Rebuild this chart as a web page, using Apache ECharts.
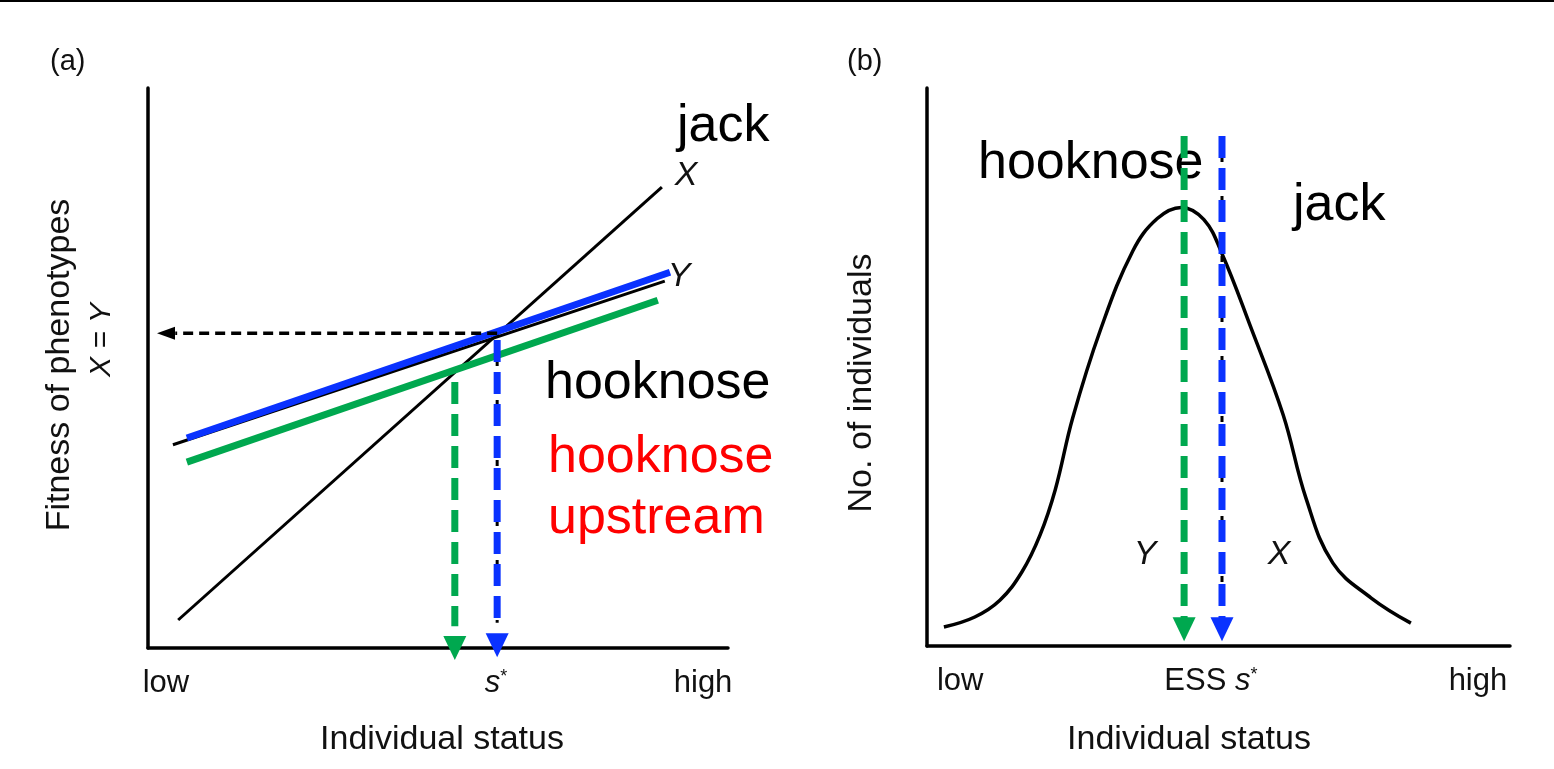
<!DOCTYPE html>
<html>
<head>
<meta charset="utf-8">
<script src="https://cdn.jsdelivr.net/npm/echarts@6/dist/echarts.min.js"></script>
<style>
  html, body { margin: 0; padding: 0; background: #fff; }
  #chart { width: 1554px; height: 769px; }
</style>
</head>
<body>
<div id="chart"></div>
<script>
// panel (a): fitness against individual status (0 = low .. 100 = high)
var jackX = [[5.2, 5.0], [88.6, 82.3]];
var hookY = [[4.3, 36.3], [89.1, 65.5]];
var hookBlue = [[6.7, 37.5], [90.0, 67.1]];
var hookGreen = [[6.7, 33.2], [87.9, 62.1]];
var equalFitness = [[60.2, 56.2], [4.7, 56.2]];
var equalArrow = [[3.1, 56.2]];
var blueDrop = [[60.2, 55.0], [60.2, 4.5]];
var blueDropTip = [[60.2, 0.5]];
var greenDrop = [[52.9, 47.5], [52.9, 3.9]];
var greenDropTip = [[52.9, 0]];
var ticksA = [3.1, 60.0, 95.7];
var tickLabelsA = ['low', 's*', 'high'];

// panel (b): number of individuals along status
var bellCurve = [
  [2.9, 3.4], [8.2, 5.2], [12.5, 8.2], [16.3, 13.3], [19.4, 19.9], [22.0, 28.0],
  [25.0, 40.9], [29.7, 56.5], [35.3, 70.8], [39.5, 76.6], [43.6, 78.6], [47.5, 76.4],
  [50.6, 70.3], [55.4, 57.5], [61.1, 41.4], [65.0, 26.5], [69.6, 14.9], [76.2, 8.6], [83.0, 4.1]
];
var greenEss = [[44.1, 91.4], [44.1, 5.0]];
var greenEssTip = [[44.1, 3.0]];
var blueEss = [[50.6, 91.4], [50.6, 5.0]];
var blueEssTip = [[50.6, 3.0]];
var ticksB = [5.7, 48.7, 94.5];
var tickLabelsB = ['low', 'ESS s*', 'high'];

var BLUE = '#0a32ff', GREEN = '#00a84f', FONT = '"Liberation Sans", Arial, sans-serif';
var INK = '#111';

function tickFormatter(ticks, labels) {
  return function (v) {
    var best = 0;
    for (var i = 1; i < ticks.length; i++) {
      if (Math.abs(ticks[i] - v) < Math.abs(ticks[best] - v)) best = i;
    }
    return labels[best].replace('s*', '{i|s}{sup|*}');
  };
}

function xAxisFor(idx, ticks, labels) {
  return {
    gridIndex: idx, type: 'value', min: 0, max: 100,
    axisLine: { show: true, onZero: false, lineStyle: { color: '#000', width: 3.5 } },
    axisTick: { show: false }, splitLine: { show: false },
    axisLabel: {
      customValues: ticks, formatter: tickFormatter(ticks, labels),
      fontSize: 31, color: INK, fontFamily: FONT, margin: 20,
      rich: {
        i: { fontSize: 31, fontStyle: 'italic', fontFamily: FONT, color: INK },
        sup: { fontSize: 18, fontFamily: FONT, color: INK, padding: [0, 0, 12, 0] }
      }
    }
  };
}
function yAxisFor(idx) {
  return {
    gridIndex: idx, type: 'value', min: 0, max: 100,
    axisLine: { show: true, onZero: false, lineStyle: { color: '#000', width: 3.5 } },
    axisTick: { show: false }, splitLine: { show: false }, axisLabel: { show: false }
  };
}

function seg(idx, data, color, width, type) {
  return {
    type: 'line', xAxisIndex: idx, yAxisIndex: idx, data: data, symbol: 'none',
    clip: false, silent: true, smooth: false,
    lineStyle: { color: color, width: width, type: type || 'solid', cap: 'butt', opacity: 1 }
  };
}
function tip(idx, data, color, size, rot) {
  return {
    type: 'scatter', xAxisIndex: idx, yAxisIndex: idx, data: data, clip: false, silent: true,
    symbol: 'triangle', symbolSize: size, symbolRotate: rot,
    itemStyle: { color: color, opacity: 1 }
  };
}

function txt(x, y, text, size, opts) {
  opts = opts || {};
  return {
    type: 'text', x: x, y: y, rotation: opts.rot || 0, z: opts.z || 1,
    style: {
      text: text, fontSize: size, fontFamily: FONT, fontStyle: opts.italic ? 'italic' : 'normal',
      fill: opts.color || '#000', align: opts.align || 'left', verticalAlign: 'middle'
    }
  };
}

var chart = echarts.init(document.getElementById('chart'));
chart.setOption({
  animation: false,
  backgroundColor: '#fff',
  grid: [
    { left: 148, top: 88, width: 580, height: 560, outerBoundsMode: 'none' },
    { left: 927, top: 88, width: 583, height: 558, outerBoundsMode: 'none' }
  ],
  xAxis: [xAxisFor(0, ticksA, tickLabelsA), xAxisFor(1, ticksB, tickLabelsB)],
  yAxis: [yAxisFor(0), yAxisFor(1)],
  series: [
    seg(0, jackX, '#000', 3),
    seg(0, hookY, '#000', 3),
    seg(0, hookGreen, GREEN, 7),
    seg(0, hookBlue, BLUE, 7),
    seg(0, equalFitness, '#000', 3.5, [10, 6]),
    tip(0, equalArrow, '#000', [13, 18], 90),
    seg(0, blueDrop, '#000', 3, [6, 14]),
    seg(0, blueDrop, BLUE, 7, [22, 10]),
    tip(0, blueDropTip, BLUE, [23, 24], 180),
    seg(0, greenDrop, GREEN, 7, [22, 10]),
    tip(0, greenDropTip, GREEN, [23, 24], 180),

    Object.assign(seg(1, bellCurve, '#000', 3.5), { smooth: 0.4 }),
    seg(1, greenEss, GREEN, 7, [22, 10]),
    tip(1, greenEssTip, GREEN, [23, 24], 180),
    seg(1, blueEss, '#000', 3, [6, 14]),
    seg(1, blueEss, BLUE, 7, [22, 10]),
    tip(1, blueEssTip, BLUE, [23, 24], 180)
  ],
  graphic: [
    { type: 'rect', shape: { x: 0, y: 0, width: 1554, height: 2 }, style: { fill: '#000' } },
    txt(50, 62, '(a)', 29, { color: INK }),
    txt(847, 62, '(b)', 29, { color: INK }),
    txt(60, 365, 'Fitness of phenotypes', 34, { rot: Math.PI / 2, align: 'center', color: INK }),
    txt(102, 340, 'X = Y', 30, { rot: Math.PI / 2, align: 'center', italic: true, color: INK }),
    txt(862, 383, 'No. of individuals', 34, { rot: Math.PI / 2, align: 'center', color: INK }),
    txt(442, 740, 'Individual status', 34, { align: 'center', color: INK }),
    txt(1189, 740, 'Individual status', 34, { align: 'center', color: INK }),
    txt(677, 127, 'jack', 52),
    txt(686, 176, 'X', 34, { italic: true, align: 'center', color: INK }),
    txt(679, 277, 'Y', 34, { italic: true, align: 'center', color: INK }),
    txt(545, 384, 'hooknose', 52),
    txt(548, 458, 'hooknose', 52, { color: '#ff0000' }),
    txt(548, 519, 'upstream', 52, { color: '#ff0000' }),
    txt(978, 164, 'hooknose', 52, { z: -1 }),
    txt(1293, 206, 'jack', 52),
    txt(1145, 555, 'Y', 34, { italic: true, align: 'center', color: INK }),
    txt(1279, 555, 'X', 34, { italic: true, align: 'center', color: INK })
  ]
});
</script>
</body>
</html>
